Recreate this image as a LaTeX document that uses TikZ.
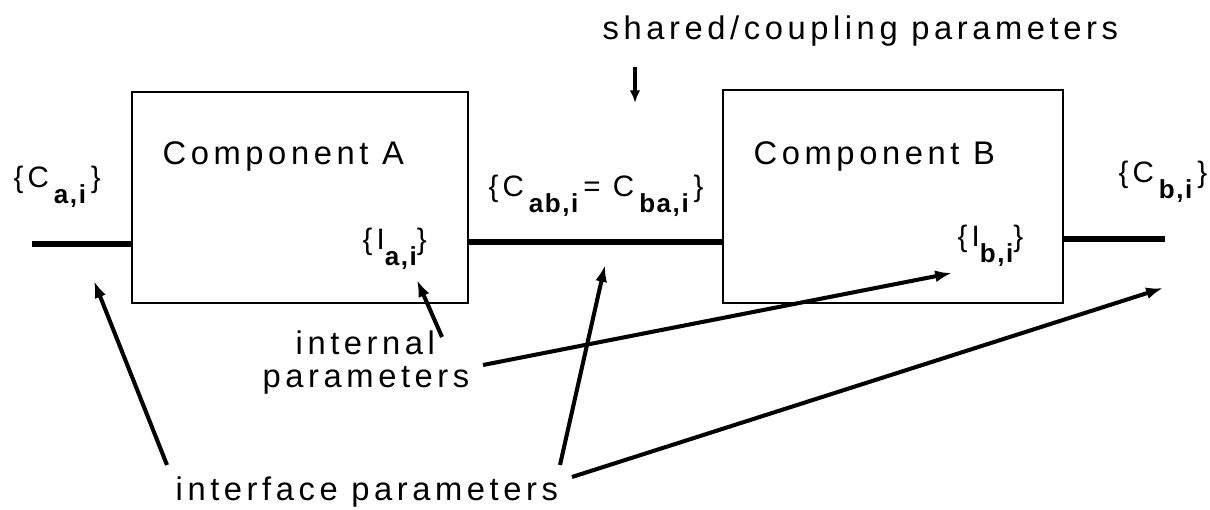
\documentclass[tikz,border=0pt]{standalone}
\usepackage{fontspec}
\setmainfont{Liberation Sans}[LetterSpace=14]
\usetikzlibrary{arrows.meta}

% subscript part of a parameter set label
\newcommand\parsub[1]{\raisebox{-4.3pt}{\fontsize{7.4}{8}\selectfont\bfseries\addfontfeature{LetterSpace=6}#1}}

\begin{document}
\begin{tikzpicture}[x=0.01cm, y=-0.01cm,
  txt/.style={inner sep=0pt, anchor=base west, font=\fontsize{9.3}{11}\selectfont},
  lbl/.style={inner sep=0pt, anchor=base west, font=\fontsize{8.4}{10}\selectfont},
  compbox/.style={draw, line width=0.6pt, inner sep=0pt},
  bus/.style={line width=1.7pt},
  pointer/.style={line width=1.15pt, -{Latex[length=4.8pt,width=3.4pt]}},
  smallptr/.style={line width=1pt, -{Latex[length=3.6pt,width=3pt]}}]
\useasboundingbox (0,0) rectangle (1210,510);

% the two components
\node[compbox, minimum width=3.36cm, minimum height=2.11cm] (boxA) at (300,197.5) {};
\node[compbox, minimum width=3.40cm, minimum height=2.13cm] (boxB) at (893,196.5) {};
\node[txt] (nameA) at (162,165) {Component A};
\node[txt] (nameB) at (753,165) {Component B};

% interface lines between and around the components
\coordinate (inA) at (32,244);
\coordinate (linkAB) at (595,242);
\coordinate (outB) at (1165,239);
\draw[bus] (inA) -- (inA -| boxA.west);
\draw[bus] (linkAB -| boxA.east) -- (linkAB -| boxB.west);
\draw[bus] (outB -| boxB.east) -- (outB);

% parameter set labels
\node[lbl] (Ca) at (13,188) {\{C\,\parsub{a,i}\,\}};
\node[lbl] (Cab) at (488,197) {\{C\,\parsub{ab,i}\,= C\,\parsub{ba,i}\,\}};
\node[lbl] (Cb) at (1118,183) {\{C\,\parsub{b,i}\,\}};
\node[lbl] (Ia) at (362,250) {\{I\parsub{a,i}\}};
\node[lbl] (Ib) at (957,247) {\{I\parsub{b,i}\}};

% captions
\node[txt] (shared) at (602,40) {shared/coupling parameters};
\node[txt] (internal1) at (295,355) {internal};
\node[txt] (internal2) at (262,388) {parameters};
\node[txt] (interface) at (175,500) {interface parameters};

% pointer ends
\coordinate (sharedTail) at (635,67);
\coordinate (sharedTip) at (635,103);
\coordinate (intTailA) at (442,337);
\coordinate (intTipA) at (417,280);
\coordinate (intTailB) at (483,365);
\coordinate (intTipB) at (952,273);
\coordinate (ifTail1) at (167,465);
\coordinate (ifTip1) at (94,281);
\coordinate (ifTail2) at (560,465);
\coordinate (ifTip2) at (605,265);
\coordinate (ifTail3) at (572,477);
\coordinate (ifTip3) at (1163,288);

% pointers
\draw[smallptr] (sharedTail) -- (sharedTip);
\draw[pointer] (intTailA) -- (intTipA);
\draw[pointer] (intTailB) -- (intTipB);
\draw[pointer] (ifTail1) -- (ifTip1);
\draw[pointer] (ifTail2) -- (ifTip2);
\draw[pointer] (ifTail3) -- (ifTip3);
\end{tikzpicture}
\end{document}
